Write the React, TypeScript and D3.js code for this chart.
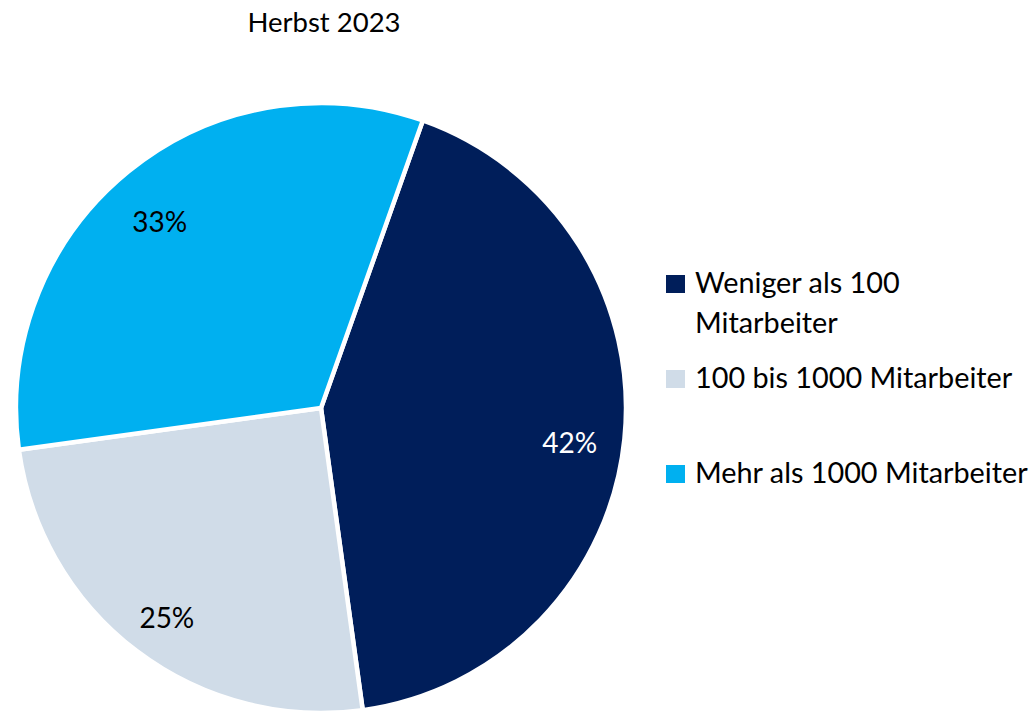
// App.tsx
import { useEffect, useRef } from "react";
import * as d3 from "d3";

const title = "Herbst 2023";
const categories = ["Weniger als 100 Mitarbeiter", "100 bis 1000 Mitarbeiter", "Mehr als 1000 Mitarbeiter"];
const legendLines = [["Weniger als 100", "Mitarbeiter"], ["100 bis 1000 Mitarbeiter"], ["Mehr als 1000 Mitarbeiter"]];
const values = [42.4, 25.0, 32.6];
const labels = ["42%", "25%", "33%"];
const colors = ["#001E5A", "#D0DCE8", "#00B0F0"];
const labelColors = ["#ffffff", "#000000", "#000000"];

function App() {
    const ref = useRef<SVGSVGElement | null>(null);

    useEffect(() => {
        drawChart();
    }, []);

    function drawChart() {
        const svg = d3.select(ref.current);
        svg.selectAll("*").remove();

        const font = "Lato, 'Open Sans', sans-serif";
        const cx = 321,
            cy = 408,
            radius = 305;

        // title
        svg.append("text")
            .attr("x", 324)
            .attr("y", 32)
            .attr("text-anchor", "middle")
            .style("font-family", font)
            .style("font-size", "27.5px")
            .style("fill", "#000")
            .text(title);

        const start = (19.5 * Math.PI) / 180;
        const pie = d3
            .pie<number>()
            .sort(null)
            .startAngle(start)
            .endAngle(start + 2 * Math.PI);

        const arc = d3.arc<d3.PieArcDatum<number>>().innerRadius(0).outerRadius(radius);
        const labelArc = d3.arc<d3.PieArcDatum<number>>().innerRadius(252).outerRadius(252);

        const g = svg.append("g").attr("transform", `translate(${cx}, ${cy})`);
        const arcs = pie(values);

        g.selectAll("path")
            .data(arcs)
            .enter()
            .append("path")
            .attr("d", arc)
            .attr("fill", (d, i) => colors[i])
            .attr("stroke", "#fff")
            .attr("stroke-width", 4.5)
            .attr("stroke-linejoin", "round");

        // percent labels (sit a little below the centroid, like the original)
        g.selectAll("text.lbl")
            .data(arcs)
            .enter()
            .append("text")
            .attr("class", "lbl")
            .attr("x", (d) => labelArc.centroid(d)[0] - 2)
            .attr("y", (d) => labelArc.centroid(d)[1] + 9)
            .attr("dy", "0.36em")
            .attr("text-anchor", "middle")
            .style("font-family", font)
            .style("font-size", "28px")
            .style("fill", (d, i) => labelColors[i])
            .text((d, i) => labels[i]);

        // legend
        const legendY = [293, 388, 483];
        const legend = svg.append("g");
        categories.forEach((name, i) => {
            const row = legend.append("g").attr("transform", `translate(666, ${legendY[i]})`);
            row.append("rect")
                .attr("x", 0)
                .attr("y", -18)
                .attr("width", 19)
                .attr("height", 18)
                .attr("fill", colors[i]);
            const t = row.append("text")
                .attr("x", 29)
                .attr("y", 0)
                .style("font-family", font)
                .style("font-size", "28.8px")
                .style("fill", "#000");
            legendLines[i].forEach((line, j) => {
                t.append("tspan")
                    .attr("x", 29)
                    .attr("y", j * 40)
                    .text(line);
            });
        });
    }

    return (
        <svg
            ref={ref}
            width={1033}
            height={713}
            style={{ position: "absolute", left: 0, top: 0, background: "#fff" }}
        />
    );
}

export default App;
